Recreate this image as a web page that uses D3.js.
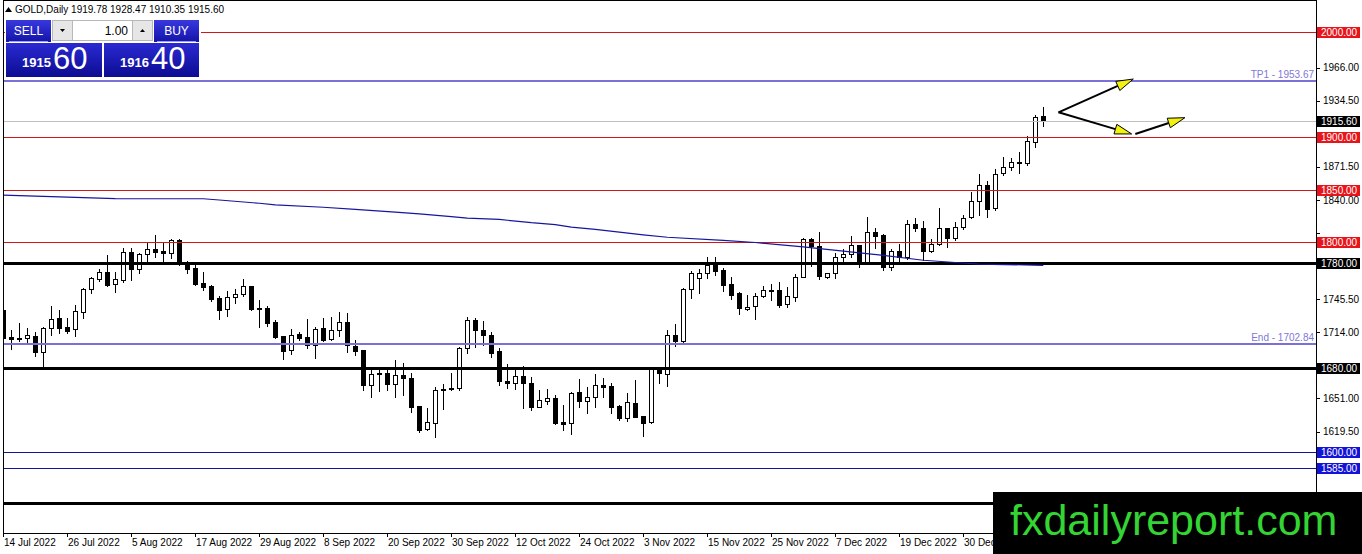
<!DOCTYPE html>
<html>
<head>
<meta charset="utf-8">
<script src="https://cdn.jsdelivr.net/npm/d3@7"></script>
<style>
  body { margin: 0; background: #fff; }
  svg { display: block; font-family: "Liberation Sans", Arial, sans-serif; }
</style>
</head>
<body>
<svg id="chart" width="1362" height="554"></svg>
<script>
// daily GOLD bars, 14 Jul 2022 -> mid Jan 2023
const openP = [
  1735.2, 1709.2, 1708.9, 1708.3, 1710.5, 1695.6, 1717.8, 1727.3, 1719.0, 1716.8,
  1733.6, 1754.9, 1764.8, 1771.1, 1759.7, 1763.8, 1790.2, 1774.0, 1788.3, 1793.0,
  1791.4, 1789.2, 1801.9, 1779.7, 1775.5, 1761.3, 1758.1, 1747.0, 1735.9, 1747.3,
  1750.2, 1758.1, 1736.8, 1736.8, 1724.1, 1710.5, 1697.1, 1712.1, 1709.2, 1701.9,
  1718.1, 1707.9, 1716.2, 1723.5, 1701.3, 1697.1, 1663.8, 1674.6, 1674.9, 1664.4,
  1673.3, 1670.8, 1643.8, 1621.6, 1627.9, 1660.0, 1659.7, 1660.6, 1698.7, 1725.7,
  1716.2, 1711.4, 1696.5, 1667.6, 1665.4, 1672.4, 1666.0, 1643.2, 1648.9, 1651.7,
  1628.3, 1627.3, 1656.8, 1648.9, 1652.0, 1663.5, 1662.9, 1643.8, 1632.1, 1646.4,
  1634.3, 1628.9, 1679.7, 1673.9, 1711.4, 1706.0, 1754.9, 1765.4, 1770.2, 1778.1,
  1773.3, 1759.7, 1751.1, 1736.5, 1739.0, 1748.9, 1753.7, 1754.3, 1740.6, 1747.9,
  1766.9, 1802.5, 1796.2, 1767.0, 1770.2, 1785.4, 1788.6, 1796.8, 1780.3, 1809.9,
  1806.7, 1775.9, 1791.7, 1785.4, 1816.8, 1813.0, 1791.7, 1797.8, 1813.0, 1803.5,
  1814.0, 1824.1, 1839.0, 1854.3, 1832.1, 1866.0, 1871.1, 1875.2, 1874.9, 1895.6,
  1919.78
];
const highP = [
  1737.0, 1716.2, 1722.5, 1717.8, 1714.6, 1719.4, 1739.0, 1735.2, 1727.3, 1740.0,
  1755.9, 1767.0, 1774.0, 1787.6, 1771.7, 1794.0, 1794.0, 1789.2, 1799.4, 1806.7,
  1798.7, 1802.5, 1802.5, 1781.9, 1781.3, 1771.7, 1759.0, 1748.6, 1753.3, 1754.9,
  1764.4, 1758.5, 1744.8, 1739.0, 1725.7, 1710.5, 1717.1, 1714.6, 1726.4, 1718.7,
  1727.3, 1728.3, 1733.6, 1732.1, 1706.7, 1697.5, 1679.7, 1679.7, 1679.7, 1687.6,
  1684.4, 1674.9, 1644.0, 1641.6, 1662.2, 1664.4, 1674.9, 1700.3, 1728.9, 1727.3,
  1724.8, 1714.6, 1698.7, 1683.8, 1678.1, 1681.9, 1671.7, 1659.0, 1659.7, 1654.3,
  1644.8, 1657.5, 1669.2, 1662.2, 1673.9, 1670.5, 1666.0, 1644.8, 1655.9, 1668.6,
  1634.5, 1680.0, 1680.5, 1716.2, 1721.9, 1755.9, 1772.7, 1774.0, 1786.0, 1785.4,
  1774.9, 1766.3, 1752.7, 1749.5, 1751.7, 1758.1, 1759.7, 1762.2, 1757.5, 1769.5,
  1803.5, 1804.1, 1809.2, 1770.8, 1789.2, 1793.3, 1805.7, 1797.0, 1824.1, 1813.6,
  1807.6, 1793.0, 1798.1, 1820.9, 1823.2, 1820.3, 1802.5, 1832.7, 1813.6, 1819.4,
  1825.7, 1847.9, 1864.8, 1858.4, 1869.2, 1881.2, 1879.7, 1886.0, 1900.9, 1920.9,
  1928.47
];
const lowP = [
  1697.1, 1697.8, 1705.7, 1705.1, 1691.4, 1681.3, 1711.4, 1713.6, 1713.0, 1710.5,
  1727.3, 1751.1, 1763.2, 1758.5, 1752.7, 1762.2, 1763.8, 1770.8, 1782.2, 1786.0,
  1782.2, 1784.4, 1778.1, 1770.2, 1759.0, 1754.3, 1743.8, 1726.7, 1729.8, 1741.6,
  1748.9, 1735.2, 1719.4, 1720.3, 1708.9, 1688.3, 1693.3, 1706.7, 1698.7, 1689.8,
  1705.7, 1706.7, 1710.5, 1695.6, 1692.4, 1659.0, 1652.7, 1658.4, 1659.0, 1652.7,
  1654.3, 1638.4, 1619.4, 1620.9, 1614.0, 1640.6, 1659.3, 1659.0, 1694.0, 1700.3,
  1701.9, 1690.2, 1663.8, 1660.6, 1659.7, 1641.6, 1640.0, 1642.5, 1645.7, 1626.7,
  1620.9, 1617.1, 1643.2, 1637.5, 1643.2, 1652.7, 1637.5, 1630.5, 1629.8, 1633.0,
  1615.6, 1627.9, 1666.0, 1662.9, 1701.0, 1704.1, 1746.4, 1751.7, 1765.4, 1768.6,
  1753.6, 1745.4, 1731.4, 1735.2, 1726.7, 1747.3, 1744.8, 1738.4, 1738.4, 1744.1,
  1766.3, 1777.5, 1764.8, 1766.0, 1765.4, 1780.6, 1786.0, 1776.5, 1779.7, 1794.6,
  1773.3, 1773.3, 1782.2, 1783.5, 1810.8, 1782.9, 1790.8, 1797.0, 1795.5, 1801.9,
  1812.1, 1822.5, 1825.7, 1824.1, 1830.5, 1863.8, 1868.6, 1866.0, 1873.3, 1890.8,
  1910.35
];
const closeP = [
  1708.3, 1707.3, 1707.3, 1711.1, 1695.6, 1717.8, 1726.4, 1718.4, 1715.6, 1734.3,
  1754.9, 1765.4, 1771.1, 1759.0, 1764.4, 1790.2, 1774.6, 1788.6, 1793.0, 1790.8,
  1789.2, 1801.9, 1778.7, 1774.6, 1760.0, 1757.5, 1745.7, 1735.2, 1747.3, 1750.2,
  1758.1, 1736.2, 1735.9, 1723.2, 1709.8, 1696.5, 1711.1, 1708.9, 1701.9, 1717.1,
  1706.7, 1716.2, 1723.5, 1701.9, 1696.5, 1663.8, 1673.9, 1674.9, 1664.4, 1673.3,
  1670.1, 1643.2, 1620.9, 1628.3, 1659.0, 1659.0, 1660.9, 1698.7, 1725.7, 1716.2,
  1711.4, 1694.0, 1668.0, 1665.4, 1672.4, 1665.4, 1643.2, 1649.5, 1651.4, 1627.3,
  1627.0, 1656.5, 1648.9, 1652.0, 1663.5, 1662.2, 1643.2, 1632.7, 1647.3, 1633.7,
  1627.9, 1679.7, 1674.9, 1711.4, 1706.0, 1754.9, 1770.2, 1770.2, 1778.1, 1772.7,
  1759.0, 1749.5, 1736.8, 1738.4, 1748.6, 1754.3, 1754.3, 1740.0, 1748.6, 1766.9,
  1802.5, 1796.5, 1767.9, 1770.2, 1785.4, 1788.6, 1796.8, 1780.3, 1809.9, 1806.0,
  1775.9, 1791.7, 1785.4, 1816.8, 1813.0, 1791.7, 1797.8, 1813.0, 1803.5, 1814.6,
  1822.5, 1839.0, 1854.3, 1831.1, 1864.8, 1871.1, 1875.9, 1876.2, 1896.2, 1918.7,
  1915.60
];

// moving average, sampled at these bars
const maIndex = [0, 7, 14, 25, 27, 32, 34, 40, 44, 49, 52, 56, 58, 62, 66, 69, 71, 74, 80, 83, 90, 94, 100, 105, 110, 115, 119, 122, 130];
const maValues = [1844.6, 1843.0, 1841.4, 1841.2, 1840.0, 1836.9, 1835.3, 1833.1, 1831.1, 1828.5, 1826.8, 1824.1, 1822.8, 1821.5, 1818.4, 1816.6, 1814.2, 1812.1, 1806.8, 1804.5, 1801.5, 1799.5, 1795.3, 1791.4, 1787.3, 1782.6, 1780.5, 1779.0, 1777.8];

const dateIndex = [0, 8, 16, 24, 32, 40, 48, 56, 64, 72, 80, 88, 96, 104, 112, 120];
const dateLabels = ["14 Jul 2022", "26 Jul 2022", "5 Aug 2022", "17 Aug 2022", "29 Aug 2022", "8 Sep 2022",
  "20 Sep 2022", "30 Sep 2022", "12 Oct 2022", "24 Oct 2022", "3 Nov 2022", "15 Nov 2022",
  "25 Nov 2022", "7 Dec 2022", "19 Dec 2022", "30 Dec 2022"];

const priceTicks = [1997.5, 1966, 1934.5, 1903, 1871.5, 1840, 1808.5, 1777, 1745.5, 1714, 1682.5, 1651, 1619.5, 1588, 1556.5];

const redLevels = [2000, 1900, 1850, 1800];
const blackLevels = [1780, 1680, 1551];
const blueLevels = [1600, 1585];
const targetLevels = [1953.67, 1702.84];
const targetNames = ["TP1", "End"];
const lastPrice = 1915.60;

const tagPrices = [2000, 1915.60, 1900, 1850, 1800, 1780, 1680, 1600, 1585];
const tagColors = ["#e8141a", "#000", "#e8141a", "#e8141a", "#e8141a", "#000", "#000", "#1212d8", "#1212d8"];

// arrows: [bar, price] start and end
const arrowFrom = [[131.9, 1923.5], [131.9, 1923.5], [141.5, 1902.9]];
const arrowTo = [[141.25, 1955.2], [141.05, 1902.9], [147.7, 1918.4]];

const header = ["GOLD,Daily", 1919.78, 1928.47, 1910.35, 1915.60];
const bidPrice = 1915.60, askPrice = 1916.40, lotSize = 1.00;

const svg = d3.select("#chart");
const left = 3, right = 1316, bottom = 533;
const stamp = { x: 993, y: 492 };   // top-left corner of the watermark box

const x = d3.scaleLinear().domain([0, 130]).range([3.3, 1043.3]);
const y = d3.scaleLinear().domain([1585, 2000]).range([467.75, 32]);
const px = v => Math.round(x(v)) + 0.5;
const py = v => Math.round(y(v)) + 0.5;

const defs = svg.append("defs");
defs.append("clipPath").attr("id", "plotClip")
  .append("rect").attr("x", left).attr("y", 0).attr("width", right - left).attr("height", bottom);
defs.append("clipPath").attr("id", "dateClip")
  .append("rect").attr("x", 0).attr("y", bottom).attr("width", stamp.x).attr("height", 554 - bottom);

function gradient(id, top, bot) {
  const g = defs.append("linearGradient").attr("id", id).attr("x1", 0).attr("y1", 0).attr("x2", 0).attr("y2", 1);
  g.append("stop").attr("offset", "0%").attr("stop-color", top);
  g.append("stop").attr("offset", "100%").attr("stop-color", bot);
}
gradient("btnGrad", "#3838e0", "#1414a8");
gradient("boxGrad", "#2a2ad2", "#0c0c92");

const plot = svg.append("g").attr("clip-path", "url(#plotClip)");

// ---- candles ----
const bars = d3.range(openP.length);
const candle = plot.append("g").attr("shape-rendering", "crispEdges")
  .selectAll("g").data(bars).join("g");

candle.append("line")
  .attr("x1", i => px(i)).attr("x2", i => px(i))
  .attr("y1", i => Math.round(y(highP[i]))).attr("y2", i => Math.round(y(lowP[i])) + 1)
  .attr("stroke", "#000");

candle.append("rect")
  .attr("x", i => Math.round(x(i)) - 1.5)
  .attr("width", 4)
  .attr("y", i => Math.round(y(Math.max(openP[i], closeP[i]))) + 0.5)
  .attr("height", i => Math.max(1, Math.round(y(Math.min(openP[i], closeP[i]))) - Math.round(y(Math.max(openP[i], closeP[i])))))
  .attr("fill", i => closeP[i] >= openP[i] ? "#fff" : "#000")
  .attr("stroke", "#000");

// ---- horizontal levels ----
const levels = plot.append("g").attr("shape-rendering", "crispEdges");

levels.selectAll(".red").data(redLevels).join("line")
  .attr("x1", left).attr("x2", right).attr("y1", py).attr("y2", py)
  .attr("stroke", "#d01818").attr("stroke-width", 1);

levels.append("line")
  .attr("x1", left).attr("x2", right).attr("y1", py(lastPrice)).attr("y2", py(lastPrice))
  .attr("stroke", "#c0c0c0");

levels.selectAll(".blue").data(blueLevels).join("line")
  .attr("x1", left).attr("x2", right).attr("y1", py).attr("y2", py)
  .attr("stroke", "#14149a");

levels.selectAll(".black").data(blackLevels).join("line")
  .attr("x1", left).attr("x2", right).attr("y1", d => Math.round(y(d))).attr("y2", d => Math.round(y(d)))
  .attr("stroke", "#000").attr("stroke-width", 3);

levels.selectAll(".target").data(targetLevels).join("line")
  .attr("x1", left).attr("x2", right).attr("y1", d => Math.round(y(d))).attr("y2", d => Math.round(y(d)))
  .attr("stroke", "#7a70d8").attr("stroke-width", 2);

plot.selectAll(".targetText").data(targetLevels).join("text")
  .attr("x", right - 2).attr("y", d => y(d) - 3)
  .attr("text-anchor", "end").attr("font-size", 10).attr("fill", "#8078d8")
  .text((d, i) => `${targetNames[i]} - ${d.toFixed(2)}`);

// moving average
plot.append("path")
  .datum(maIndex)
  .attr("fill", "none").attr("stroke", "#16169e").attr("stroke-width", 1.2)
  .attr("d", d3.line().x(i => x(i)).y((i, k) => y(maValues[k])));

// ---- arrows ----
const arrows = svg.append("g");
arrowFrom.forEach(function(a, k) {
  const b = arrowTo[k];
  const x0 = x(a[0]), y0 = y(a[1]), x1 = x(b[0]), y1 = y(b[1]);
  const ang = Math.atan2(y1 - y0, x1 - x0);
  const len = 17, half = 5;
  const bx = x1 - len * Math.cos(ang), by = y1 - len * Math.sin(ang);
  arrows.append("line")
    .attr("x1", x0).attr("y1", y0).attr("x2", bx).attr("y2", by)
    .attr("stroke", "#000").attr("stroke-width", 2);
  const pts = [
    [x1, y1],
    [bx - half * Math.sin(ang), by + half * Math.cos(ang)],
    [bx + half * Math.sin(ang), by - half * Math.cos(ang)]
  ];
  arrows.append("polygon")
    .attr("points", pts.map(p => p.join(",")).join(" "))
    .attr("fill", "#f2f20a").attr("stroke", "#000").attr("stroke-width", 1);
});

// ---- frame and axes ----
svg.append("rect")
  .attr("x", left + 0.5).attr("y", 0.5).attr("width", right - left).attr("height", bottom)
  .attr("fill", "none").attr("stroke", "#000").attr("shape-rendering", "crispEdges");

// scale labels that sit under a price tag or the watermark are covered, so leave them out
const freeTicks = priceTicks.filter(t =>
  y(t) < stamp.y - 6 && tagPrices.every(p => Math.abs(y(t) - y(p)) > 10));

const yAxis = svg.append("g").attr("shape-rendering", "crispEdges");
yAxis.selectAll("line").data(priceTicks).join("line")
  .attr("x1", right + 1).attr("x2", right + 4).attr("y1", py).attr("y2", py)
  .attr("stroke", "#000");
yAxis.selectAll("text").data(freeTicks).join("text")
  .attr("x", right + 7).attr("y", d => y(d) + 3.5)
  .attr("font-size", 10).attr("fill", "#000")
  .text(d => d.toFixed(2));

const xAxis = svg.append("g").attr("clip-path", "url(#dateClip)");
xAxis.selectAll("line").data(dateIndex).join("line")
  .attr("x1", px).attr("x2", px).attr("y1", bottom).attr("y2", bottom + 4)
  .attr("stroke", "#000").attr("shape-rendering", "crispEdges");
xAxis.selectAll("text").data(dateIndex).join("text")
  .attr("x", d => Math.round(x(d)) + 1).attr("y", 546)
  .attr("font-size", 10).attr("fill", "#000")
  .text((d, i) => dateLabels[i]);

// price tags on the right scale
const tags = svg.append("g").selectAll("g").data(tagPrices).join("g")
  .attr("transform", d => `translate(${right + 1},${Math.round(y(d)) - 5})`);
tags.append("rect").attr("width", 43).attr("height", 11)
  .attr("fill", (d, i) => tagColors[i]);
tags.append("text").attr("x", 4).attr("y", 9)
  .attr("font-size", 10).attr("fill", "#fff")
  .text(d => d.toFixed(2));

// ---- header and one click trading panel ----
svg.append("path").attr("d", "M5,12 L8.5,7 L12,12 Z").attr("fill", "#000");
svg.append("text").attr("x", 15).attr("y", 13).attr("font-size", 10).attr("fill", "#000")
  .text(`${header[0]}  ${header.slice(1).map(v => v.toFixed(2)).join(" ")}`);

const panel = svg.append("g");
panel.append("rect").attr("x", 5).attr("y", 19).attr("width", 196).attr("height", 59).attr("fill", "#fff");
panel.append("rect").attr("x", 6).attr("y", 20).attr("width", 45).attr("height", 22).attr("fill", "url(#btnGrad)");
panel.append("rect").attr("x", 154).attr("y", 20).attr("width", 45).attr("height", 22).attr("fill", "url(#btnGrad)");
panel.append("line").attr("x1", 9).attr("x2", 48).attr("y1", 41.5).attr("y2", 41.5).attr("stroke", "#9aa0f0");
panel.append("line").attr("x1", 157).attr("x2", 196).attr("y1", 41.5).attr("y2", 41.5).attr("stroke", "#9aa0f0");
panel.append("text").attr("x", 28.5).attr("y", 35).attr("text-anchor", "middle")
  .attr("font-size", 12).attr("fill", "#fff").text("SELL");
panel.append("text").attr("x", 176.5).attr("y", 35).attr("text-anchor", "middle")
  .attr("font-size", 12).attr("fill", "#fff").text("BUY");

panel.append("rect").attr("x", 52.5).attr("y", 20.5).attr("width", 100).attr("height", 20)
  .attr("fill", "#fff").attr("stroke", "#b8b8b8");
panel.append("rect").attr("x", 52.5).attr("y", 20.5).attr("width", 20).attr("height", 20)
  .attr("fill", "#e6e6e6").attr("stroke", "#b8b8b8");
panel.append("rect").attr("x", 132.5).attr("y", 20.5).attr("width", 20).attr("height", 20)
  .attr("fill", "#e6e6e6").attr("stroke", "#b8b8b8");
panel.append("path").attr("d", "M60,29 L65,29 L62.5,32 Z").attr("fill", "#000");
panel.append("path").attr("d", "M140,32 L145,32 L142.5,29 Z").attr("fill", "#000");
panel.append("text").attr("x", 128).attr("y", 35).attr("text-anchor", "end")
  .attr("font-size", 12).attr("fill", "#000").text(lotSize.toFixed(2));

panel.append("rect").attr("x", 6).attr("y", 43).attr("width", 96).attr("height", 34).attr("fill", "url(#boxGrad)");
panel.append("rect").attr("x", 104).attr("y", 43).attr("width", 95).attr("height", 34).attr("fill", "url(#boxGrad)");

function quote(xPos, price) {
  const s = price.toFixed(2).split(".");
  panel.append("text").attr("x", xPos).attr("y", 67).attr("font-size", 13).attr("font-weight", "bold")
    .attr("fill", "#fff").text(s[0]);
  panel.append("text").attr("x", xPos + 31).attr("y", 69).attr("font-size", 31)
    .attr("fill", "#fff").text(s[1]);
}
quote(22, bidPrice);
quote(120, askPrice);

// ---- watermark ----
svg.append("rect").attr("x", stamp.x).attr("y", stamp.y).attr("width", 1362 - stamp.x).attr("height", 554 - stamp.y).attr("fill", "#000");
svg.append("text").attr("x", 1010).attr("y", 535).attr("font-size", 43).attr("fill", "#33d433")
  .text("fxdailyreport.com");
</script>
</body>
</html>
